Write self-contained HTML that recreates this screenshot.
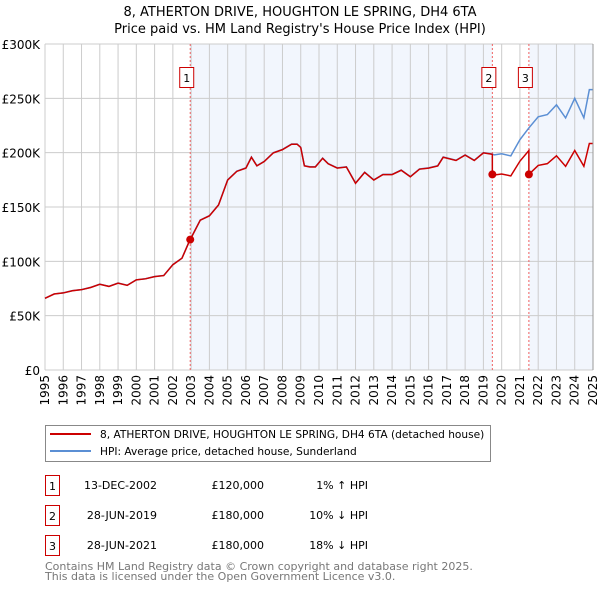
<!DOCTYPE html>
<html><head><meta charset="utf-8"><style>
body{margin:0;background:#fff;font-family:"DejaVu Sans","Liberation Sans",sans-serif}
svg text{font-family:"DejaVu Sans","Liberation Sans",sans-serif}
</style></head><body>
<svg id="c" width="600" height="590" xmlns="http://www.w3.org/2000/svg">
<text x="300" y="16" text-anchor="middle" font-size="13">8, ATHERTON DRIVE, HOUGHTON LE SPRING, DH4 6TA</text>
<text x="300" y="33" text-anchor="middle" font-size="13">Price paid vs. HM Land Registry's House Price Index (HPI)</text>
<g id="plot"></g>
<g>
<rect x="45.5" y="425.5" width="445" height="36" fill="#fff" stroke="#888"/>
<line x1="50" y1="434" x2="91" y2="434" stroke="#cc0000" stroke-width="2"/>
<text x="100" y="438" font-size="10.6">8, ATHERTON DRIVE, HOUGHTON LE SPRING, DH4 6TA (detached house)</text>
<line x1="50" y1="451" x2="91" y2="451" stroke="#5b8fd4" stroke-width="2"/>
<text x="100" y="455" font-size="10.6">HPI: Average price, detached house, Sunderland</text>
</g>
<g font-size="11">
<rect x="45.5" y="475.5" width="14" height="20" fill="#fff" stroke="#cc0000"/><text x="52.5" y="490" text-anchor="middle">1</text>
<text x="157" y="489" text-anchor="end">13-DEC-2002</text><text x="264" y="489" text-anchor="end">£120,000</text><text x="368" y="489" text-anchor="end">1% ↑ HPI</text>
<rect x="45.5" y="505.5" width="14" height="20" fill="#fff" stroke="#cc0000"/><text x="52.5" y="520" text-anchor="middle">2</text>
<text x="157" y="519" text-anchor="end">28-JUN-2019</text><text x="264" y="519" text-anchor="end">£180,000</text><text x="368" y="519" text-anchor="end">10% ↓ HPI</text>
<rect x="45.5" y="535.5" width="14" height="20" fill="#fff" stroke="#cc0000"/><text x="52.5" y="550" text-anchor="middle">3</text>
<text x="157" y="549" text-anchor="end">28-JUN-2021</text><text x="264" y="549" text-anchor="end">£180,000</text><text x="368" y="549" text-anchor="end">18% ↓ HPI</text>
</g>
<text x="45" y="570" font-size="11" fill="#777">Contains HM Land Registry data © Crown copyright and database right 2025.</text>
<text x="45" y="580" font-size="11" fill="#777">This data is licensed under the Open Government Licence v3.0.</text>
</svg>
<script>
const hpiYears=[1995,1995.5,1996,1996.5,1997,1997.5,1998,1998.5,1999,1999.5,2000,2000.5,2001,2001.5,2002,2002.5,2002.9,2003.5,2004,2004.5,2005,2005.5,2006,2006.3,2006.6,2007,2007.5,2008,2008.5,2008.8,2009,2009.2,2009.5,2009.8,2010.2,2010.5,2011,2011.5,2012,2012.5,2013,2013.5,2014,2014.5,2015,2015.5,2016,2016.5,2016.8,2017.5,2018,2018.5,2019,2019.4,2019.6,2020,2020.5,2021,2021.5,2022,2022.5,2023,2023.5,2024,2024.5,2024.8,2025];
const hpiValues=[66,70,71,73,74,76,79,77,80,78,83,84,86,87,97,103,118.5,138,142,152,175,183,186,196,188,192,200,203,208,208,205,188,187,187,195,190,186,187,172,182,175,180,180,184,178,185,186,188,196,193,198,193,200,199,198,199,197,212,223,233,235,244,232,250,232,258,258];
const saleYears=[2002.95,2019.49,2021.49];
const salePrices=[120,180,180];
const yTicks=[0,50,100,150,200,250,300];
const xTicks=[1995,1996,1997,1998,1999,2000,2001,2002,2003,2004,2005,2006,2007,2008,2009,2010,2011,2012,2013,2014,2015,2016,2017,2018,2019,2020,2021,2022,2023,2024,2025];
const X0=45,X1=593,Y0=370,Y1=44;
const xs=y=>X0+(y-1995)/30*(X1-X0);
const ys=v=>Y0-v/300*(Y0-Y1);
function hpiAt(t){for(let i=1;i<hpiYears.length;i++){if(t<=hpiYears[i]){const f=(t-hpiYears[i-1])/(hpiYears[i]-hpiYears[i-1]);return hpiValues[i-1]+f*(hpiValues[i]-hpiValues[i-1]);}}return hpiValues[hpiValues.length-1];}
const NS="http://www.w3.org/2000/svg";
const g=document.getElementById('plot');
function mk(tag,attrs,parent){const e=document.createElementNS(NS,tag);for(const k in attrs)e.setAttribute(k,attrs[k]);(parent||g).appendChild(e);return e;}
let r=mk('rect',{x:xs(saleYears[0]),y:Y1,width:xs(saleYears[1])-xs(saleYears[0]),height:Y0-Y1,fill:'#eef3fc',opacity:0.75});


r=mk('rect',{x:xs(saleYears[2]),y:Y1,width:X1-xs(saleYears[2]),height:Y0-Y1,fill:'#eef3fc',opacity:0.75});


xTicks.forEach(t=>{const l=mk('line',{x1:xs(t),x2:xs(t),y1:Y1,y2:Y0,stroke:'#ccc','stroke-width':1});


const tx=mk('text',{x:0,y:0,'font-size':12,'text-anchor':'end',transform:`translate(${xs(t)+4},${Y0+5}) rotate(-90)`});tx.textContent=t;

});
yTicks.forEach(t=>{const l=mk('line',{x1:X0,x2:X1,y1:ys(t),y2:ys(t),stroke:'#ccc','stroke-width':1});


const tx=mk('text',{x:40,y:ys(t)+5,'font-size':12,'text-anchor':'end'});tx.textContent=t===0?'£0':'£'+t+'K';

});
saleYears.forEach((s,i)=>{const l=mk('line',{x1:xs(s),x2:xs(s),y1:Y1,y2:Y0,stroke:'#f06060','stroke-dasharray':'2,2','stroke-width':1});


const b=mk('rect',{x:xs(s)-10.5,y:67.5,width:14,height:20,fill:'#fff',stroke:'#cc0000'});


const tx=mk('text',{x:xs(s)-3.5,y:82,'font-size':11,'text-anchor':'middle'});tx.textContent=i+1;

});
const hp=mk('polyline',{points:hpiYears.map((y,i)=>xs(y)+','+ys(hpiValues[i])).join(' '),fill:'none',stroke:'#5b8fd4','stroke-width':1.5});


let pts=[];
const ratio=salePrices.map((p,i)=>p/hpiAt(saleYears[i]));
function ratioAt(t){let k=0;for(let i=0;i<saleYears.length;i++)if(t>=saleYears[i])k=i;return t<saleYears[0]?ratio[0]:ratio[k];}
let tl=hpiYears.slice();saleYears.forEach(s=>{tl.push(s-0.001);tl.push(s);});tl.sort((a,b)=>a-b);
tl.forEach(t=>pts.push(xs(t)+','+ys(hpiAt(t)*ratioAt(t))));
const pl=mk('polyline',{points:pts.join(' '),fill:'none',stroke:'#cc0000','stroke-width':1.5});


saleYears.forEach((s,i)=>{const c=mk('circle',{cx:xs(s),cy:ys(salePrices[i]),r:4,fill:'#cc0000'});

});
const ax=mk('line',{x1:X1,x2:X1,y1:Y1,y2:Y0,stroke:'#999'});


</script>
</body></html>
